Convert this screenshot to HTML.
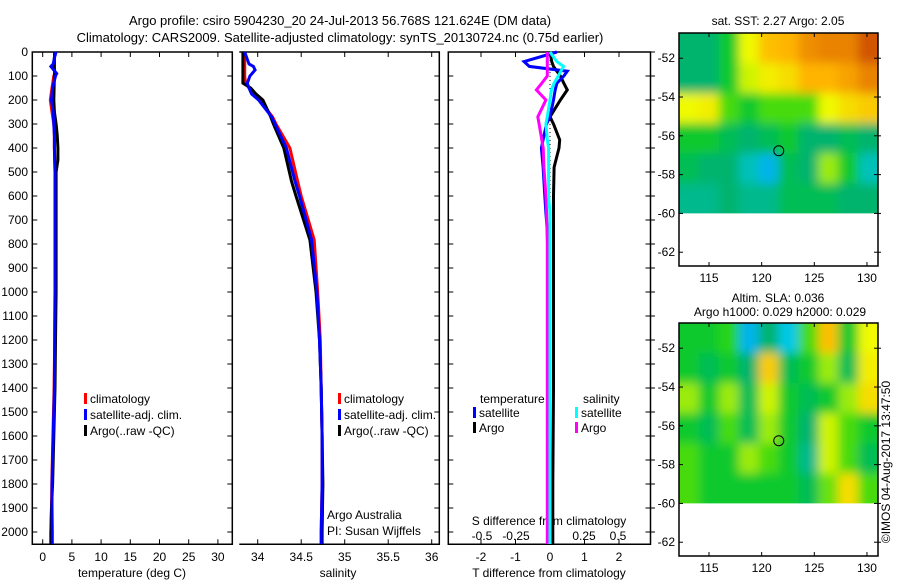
<!DOCTYPE html>
<html><head><meta charset="utf-8"><style>
body{margin:0;background:#fff}
svg{display:block;font-family:"Liberation Sans",sans-serif;font-size:12px}
</style></head><body>
<svg id="s" width="900" height="580" viewBox="0 0 900 580">
<text x="340" y="25" text-anchor="middle" font-size="13">Argo profile: csiro 5904230_20 24-Jul-2013 56.768S 121.624E (DM data)</text>
<text x="340" y="42" text-anchor="middle" font-size="13">Climatology: CARS2009. Satellite-adjusted climatology: synTS_20130724.nc (0.75d earlier)</text>
<text x="778" y="25" text-anchor="middle">sat. SST: 2.27 Argo: 2.05</text>
<text x="778" y="302" text-anchor="middle">Altim. SLA: 0.036</text>
<text x="780" y="316" text-anchor="middle">Argo h1000: 0.029 h2000: 0.029</text>
<text transform="translate(890,462) rotate(-90)" text-anchor="middle">©IMOS 04-Aug-2017 13:47:50</text>
</svg>
<script>
const depthTicks=[0,100,200,300,400,500,600,700,800,900,1000,1100,1200,1300,1400,1500,1600,1700,1800,1900,2000];
const tTicks=[0,5,10,15,20,25,30];
const sTicks=[34,34.5,35,35.5,36];
const sTickLabels=["34","34.5","35","35.5","36"];
const dTTicks=[-2,-1,0,1,2];
const dSTicks=[-0.5,-0.25,0,0.25,0.5];
const dSTickLabels=["-0.5","-0.25","0","0.25","0.5"];
const tDepths=[0,25,50,60,75,90,100,150,200,250,300,350,400,450,500,600,800,1000,1200,1400,1600,1800,1900,2000,2050];
const tArgo=[2.05,2.0,2.0,2.0,2.0,2.05,2.0,1.95,1.9,2.0,2.3,2.5,2.6,2.6,2.3,2.3,2.3,2.3,2.2,2.1,1.9,1.7,1.5,1.4,1.4];
const tSat=[2.27,2.0,1.8,1.4,1.9,2.4,2.2,1.7,1.5,1.8,1.9,2.0,2.0,2.05,2.1,2.1,2.1,2.1,2.05,2.0,1.8,1.6,1.6,1.65,1.65];
const tClim=[2.05,2.0,1.95,1.95,2.0,2.05,1.9,1.6,1.3,1.6,1.9,2.0,2.0,2.05,2.1,2.1,2.1,2.1,2.05,1.95,1.75,1.55,1.5,1.4,1.4];
const sDepths=[0,50,60,75,100,130,150,175,200,270,300,400,540,600,783,1000,1200,1400,1600,1800,2000,2050];
const sSat=[33.85,33.9,33.95,33.97,33.91,33.88,33.9,33.93,34.01,34.16,34.2,34.33,34.43,34.48,34.62,34.68,34.71,34.73,34.74,34.74,34.73,34.73];
const sArgo=[33.83,33.83,33.83,33.83,33.83,33.83,33.92,33.98,34.06,34.15,34.18,34.3,34.39,34.44,34.6,34.67,34.71,34.73,34.74,34.75,34.74,34.74];
const sClim=[33.85,33.85,33.85,33.85,33.85,33.86,33.9,33.95,34.02,34.17,34.21,34.37,34.46,34.5,34.65,34.69,34.72,34.73,34.74,34.74,34.73,34.73];
const dDepths=[0,40,60,80,100,130,158,200,270,300,366,400,480,600,670,800,1000,1400,1800,2050];
const dTArgo=[0,0.05,0.1,0.2,0.3,0.4,0.5,0.3,0,0.1,0.28,0.26,0.12,0.1,0.1,0.1,0.1,0.1,0.08,0.08];
const dTSat=[0.2,-0.75,-0.6,0.5,0.4,0.2,0.15,0.1,0.0,-0.1,-0.2,-0.25,-0.2,-0.15,-0.12,-0.05,-0.02,0,0,0];
const dSArgo=[-0.02,-0.02,-0.02,-0.02,-0.02,-0.06,-0.1,-0.03,-0.09,-0.08,-0.06,-0.05,-0.045,-0.03,-0.025,-0.02,-0.02,-0.02,-0.02,-0.02];
const dSSat=[0,0.05,0.1,0.08,0.06,0.03,0.01,0,-0.02,-0.03,-0.02,-0.01,-0.01,-0.01,0,0,0,0,0,0];
const sstGrid=[[0.4,0.4,0.45,0.6,0.7,0.72,0.78,0.8,0.8,0.88],[0.4,0.4,0.45,0.58,0.62,0.65,0.72,0.72,0.75,0.8],[0.6,0.62,0.5,0.45,0.5,0.5,0.5,0.6,0.65,0.68],[0.45,0.45,0.42,0.4,0.42,0.45,0.4,0.4,0.42,0.4],[0.42,0.4,0.4,0.35,0.3,0.42,0.4,0.55,0.45,0.35],[0.38,0.38,0.4,0.38,0.38,0.42,0.42,0.42,0.4,0.4]];
const slaGrid=[[0.45,0.45,0.48,0.3,0.4,0.32,0.5,0.7,0.45,0.6],[0.45,0.42,0.45,0.4,0.68,0.42,0.45,0.55,0.42,0.62],[0.55,0.45,0.55,0.42,0.58,0.45,0.42,0.45,0.55,0.65],[0.45,0.42,0.5,0.42,0.55,0.45,0.4,0.58,0.5,0.45],[0.5,0.45,0.45,0.55,0.5,0.45,0.38,0.58,0.5,0.42],[0.5,0.45,0.45,0.45,0.45,0.45,0.42,0.52,0.65,0.5]];
const latTicks=[-52,-54,-56,-58,-60,-62];
const lonTicks=[115,120,125,130];
const argoLon=121.624, argoLat=-56.768;

const NS='http://www.w3.org/2000/svg';
const svg=document.getElementById('s');
function mk(tag,attrs,parent){const e=document.createElementNS(NS,tag);for(const k in attrs)e.setAttribute(k,attrs[k]);(parent||svg).appendChild(e);return e;}
const yTop=52,yPx=0.24;
const yD=d=>yTop+d*yPx;
const yBot=544.3;
function panel(x0,x1,name,leftLine){
  const g=mk('g',{});
  
  
  let d=`M${x0} ${yTop}H${x1}V${yBot}H${x0}`+(leftLine?'Z':'');
  mk('path',{d:d,fill:'none',stroke:'#000','stroke-width':1.5},g);
  depthTicks.forEach(v=>{const y=yD(v);
    if(leftLine)mk('line',{x1:x0,x2:x0+5,y1:y,y2:y,stroke:'#000'},g);
    mk('line',{x1:x1-5,x2:x1,y1:y,y2:y,stroke:'#000'},g);});
  return g;
}
function line(g,xs,ds,xf,color,name,w){
  const p=xs.map((v,i)=>`${i?'L':'M'}${xf(v).toFixed(1)} ${yD(ds[i]).toFixed(1)}`).join('');
  const e=mk('path',{d:p,fill:'none',stroke:color,'stroke-width':w||3,'stroke-linejoin':'miter'},g);
  
  
}
function legend(g,x,y,color,label,name){
  const r=mk('rect',{x:x,y:y-10,width:3,height:11,fill:color},g);
  
  
  const t=mk('text',{x:x+6,y:y},g);t.textContent=label;
  
  
}
const xT=v=>42.7+v*5.84;
const p1=panel(32.3,232.3,'temperature-panel',true);
depthTicks.forEach(v=>{const t=mk('text',{x:28,y:yD(v)+4,'text-anchor':'end'},p1);t.textContent=v;
  
  });
tTicks.forEach(v=>{const x=xT(v);mk('line',{x1:x,x2:x,y1:yBot-5,y2:yBot,stroke:'#000'},p1);mk('line',{x1:x,x2:x,y1:yTop,y2:yTop+5,stroke:'#000'},p1);
  const t=mk('text',{x:x,y:561,'text-anchor':'middle'},p1);t.textContent=v;
  
  });
{const t=mk('text',{x:132,y:577,'text-anchor':'middle'},p1);t.textContent='temperature (deg C)';

}
line(p1,tClim,tDepths,xT,'#f00','temp-climatology-line');
line(p1,tArgo,tDepths,xT,'#000','temp-argo-line');
line(p1,tSat,tDepths,xT,'#00f','temp-satellite-line');
legend(p1,84,403,'#f00','climatology','legend-climatology');
legend(p1,84,419,'#00f','satellite-adj. clim.','legend-satellite');
legend(p1,84,435,'#000','Argo(..raw -QC)','legend-argo');
const xS=v=>257.7+(v-34)*87;
const p2=panel(239.3,439.3,'salinity-panel',false);
sTicks.forEach((v,i)=>{const x=xS(v);mk('line',{x1:x,x2:x,y1:yBot-5,y2:yBot,stroke:'#000'},p2);mk('line',{x1:x,x2:x,y1:yTop,y2:yTop+5,stroke:'#000'},p2);
  const t=mk('text',{x:x,y:561,'text-anchor':'middle'},p2);t.textContent=sTickLabels[i];
  
  });
{const t=mk('text',{x:338,y:577,'text-anchor':'middle'},p2);t.textContent='salinity';

}
line(p2,sClim,sDepths,xS,'#f00','sal-climatology-line');
line(p2,sArgo,sDepths,xS,'#000','sal-argo-line');
line(p2,sSat,sDepths,xS,'#00f','sal-satellite-line');
legend(p2,338,403,'#f00','climatology','legend-climatology');
legend(p2,338,419,'#00f','satellite-adj. clim.','legend-satellite');
legend(p2,338,435,'#000','Argo(..raw -QC)','legend-argo');
{const t=mk('text',{x:327,y:519},p2);t.textContent='Argo Australia';
const t2=mk('text',{x:327,y:535},p2);t2.textContent='PI: Susan Wijffels';}
const xDT=v=>550+v*34.5;
const xDS=v=>550+v*136;
const p3=panel(448.3,650.5,'difference-panel',true);
depthTicks.forEach(v=>{const y=yD(v);mk('line',{x1:650.5,x2:655,y1:y,y2:y,stroke:'#000'},p3);});
dTTicks.forEach(v=>{const x=xDT(v);mk('line',{x1:x,x2:x,y1:yBot-5,y2:yBot,stroke:'#000'},p3);mk('line',{x1:x,x2:x,y1:yTop,y2:yTop+5,stroke:'#000'},p3);
  const t=mk('text',{x:x,y:561,'text-anchor':'middle'},p3);t.textContent=v;
  
  });
dSTicks.forEach((v,i)=>{const t=mk('text',{x:xDS(v),y:540,'text-anchor':'middle'},p3);t.textContent=dSTickLabels[i];
  
  });
{const t=mk('text',{x:549,y:525,'text-anchor':'middle'},p3);t.textContent='S difference from climatology';
const t2=mk('text',{x:549,y:577,'text-anchor':'middle'},p3);t2.textContent='T difference from climatology';}
mk('line',{x1:xDT(0),x2:xDT(0),y1:yTop,y2:yBot,stroke:'#000','stroke-dasharray':'1 3'},p3);
line(p3,dTArgo,dDepths,xDT,'#000','tdiff-argo-line');
line(p3,dTSat,dDepths,xDT,'#00f','tdiff-satellite-line');
line(p3,dSArgo,dDepths,xDS,'#f0f','sdiff-argo-line');
line(p3,dSSat,dDepths,xDS,'#0ff','sdiff-satellite-line');
{const t=mk('text',{x:480,y:403},p3);t.textContent='temperature';
const t2=mk('text',{x:583,y:403},p3);t2.textContent='salinity';}
legend(p3,473,417,'#00f','satellite','legend-t-satellite');
legend(p3,473,432,'#000','Argo','legend-t-argo');
legend(p3,575,417,'#0ff','satellite','legend-s-satellite');
legend(p3,575,432,'#f0f','Argo','legend-s-argo');
function cmap(v){
  const stops=[[0,[0,0,160]],[0.2,[0,80,255]],[0.32,[0,200,230]],[0.4,[0,180,110]],[0.47,[20,210,20]],[0.6,[240,250,0]],[0.72,[255,180,0]],[0.85,[220,100,0]],[1,[170,20,0]]];
  for(let i=1;i<stops.length;i++){if(v<=stops[i][0]){const a=stops[i-1],b=stops[i],f=(v-a[0])/(b[0]-a[0]);
    return 'rgb('+a[1].map((c,j)=>Math.round(c+(b[1][j]-c)*f)).join(',')+')';}}
  return 'rgb(170,20,0)';
}
function map(y0,grid,name,id){
  const g=mk('g',{});
  
  
  const x0=679,x1=878,lonL=112.15,pxLon=10.53,pxLat=19.4,latT=-50.7;
  const xL=l=>x0+(l-lonL)*pxLon, yL=l=>y0+(latT-l)*pxLat;
  const defs=mk('defs',{},g);
  const cp=mk('clipPath',{id:id},defs);mk('rect',{x:x0,y:y0,width:x1-x0,height:yL(-60)-y0},cp);
  const f=mk('filter',{id:id+'f',x:'-10%',y:'-10%',width:'120%',height:'120%'},defs);mk('feGaussianBlur',{stdDeviation:5},f);
  const cg=mk('g',{'clip-path':`url(#${id})`},g);
  const inner=mk('g',{filter:`url(#${id}f)`},cg);
  const rows=grid.length,cols=grid[0].length,cw=(x1-x0)/cols,ch=(yL(-60)-y0)/rows;
  grid.forEach((row,r)=>row.forEach((v,c)=>{
    const e=mk('rect',{x:x0+c*cw-(c==0?12:0),y:y0+r*ch-(r==0?12:0),width:cw+1+(c==0||c==cols-1?12:0),height:ch+1+(r==0||r==rows-1?12:0),fill:cmap(v)},inner);
    
    
  }));
  const yb=y0+233;
  mk('rect',{x:x0,y:y0,width:x1-x0,height:yb-y0,fill:'none',stroke:'#000','stroke-width':1.5},g);
  latTicks.forEach(l=>{const y=yL(l);mk('line',{x1:x0,x2:x0+4,y1:y,y2:y,stroke:'#000'},g);mk('line',{x1:x1-4,x2:x1+3,y1:y,y2:y,stroke:'#000'},g);
    const t=mk('text',{x:x0-4,y:y+4,'text-anchor':'end'},g);t.textContent=l;
    
    });
  lonTicks.forEach(l=>{const x=xL(l);mk('line',{x1:x,x2:x,y1:yb-4,y2:yb,stroke:'#000'},g);mk('line',{x1:x,x2:x,y1:y0,y2:y0+4,stroke:'#000'},g);
    const t=mk('text',{x:x,y:yb+16,'text-anchor':'middle'},g);t.textContent=l;
    
    });
  const c=mk('circle',{cx:xL(argoLon),cy:yL(argoLat),r:5,fill:'none',stroke:'#000'},g);
  
  
}
map(33,sstGrid,'sst-map','c1');
map(323,slaGrid,'sla-map','c2');
</script>
</body></html>
